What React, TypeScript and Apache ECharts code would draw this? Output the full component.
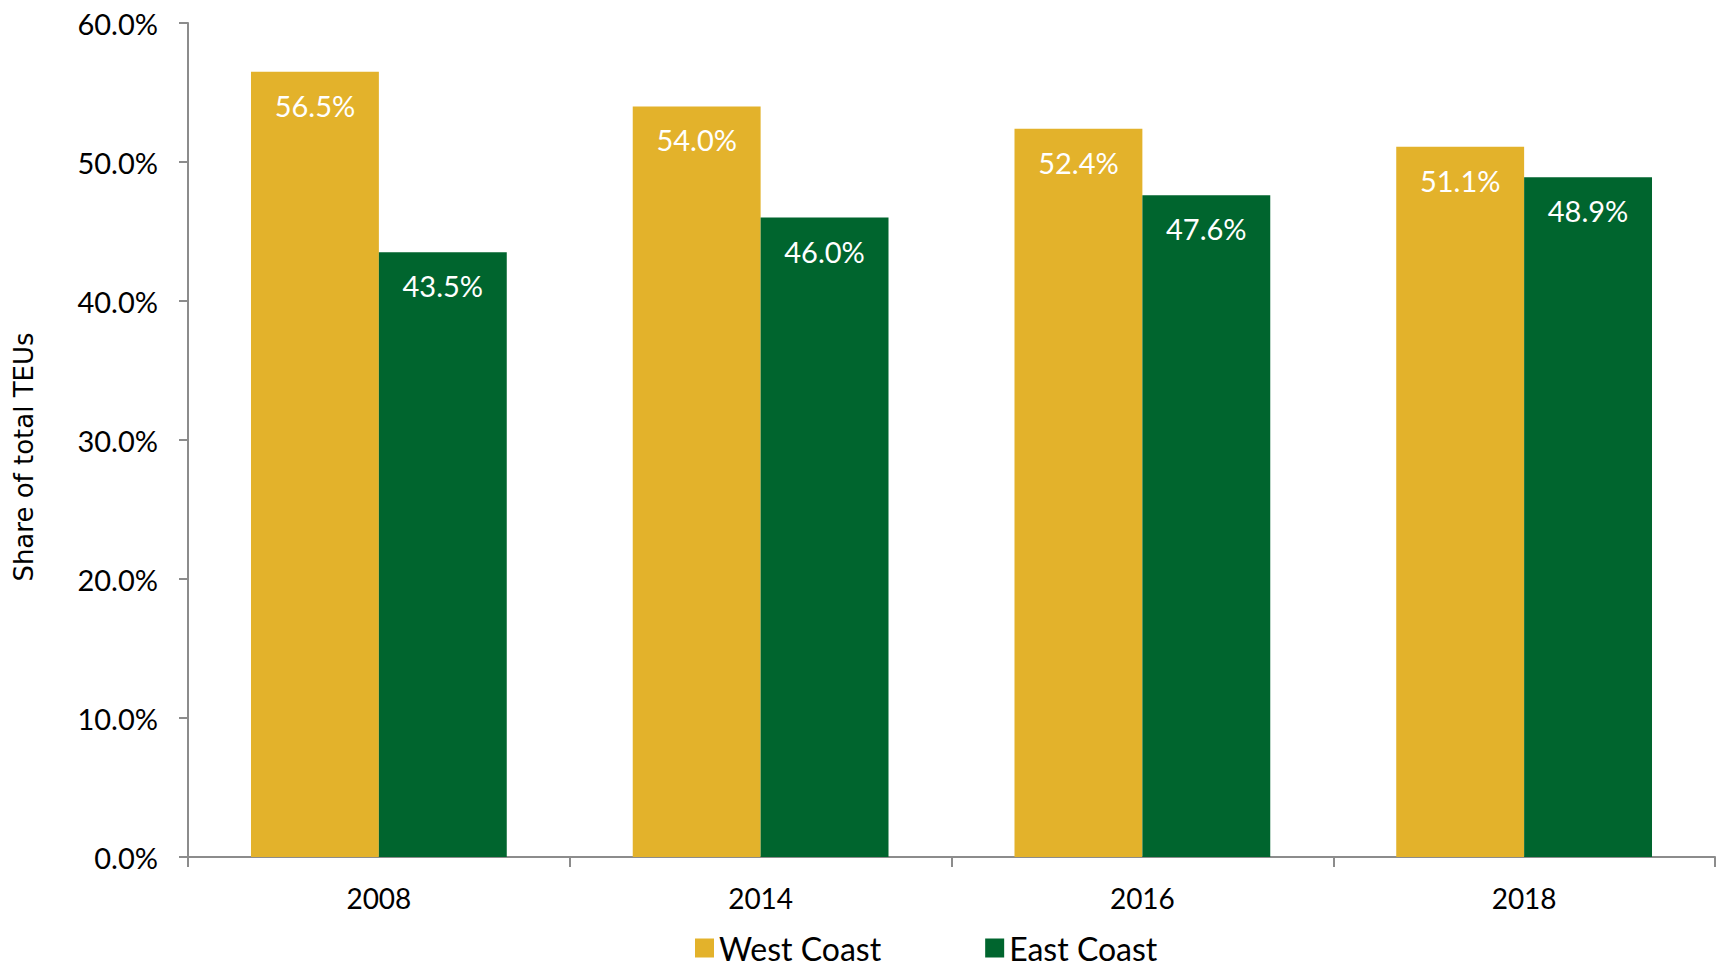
import React, { useEffect, useRef } from "react";
import * as echarts from "echarts";

const categories = ["2008", "2014", "2016", "2018"];
const westCoast = [56.5, 54.0, 52.4, 51.1];
const eastCoast = [43.5, 46.0, 47.6, 48.9];
const seriesNames = ["West Coast", "East Coast"];

const GOLD = "#E3B22B";
const GREEN = "#00652E";
const FONT = "Lato, 'Open Sans', sans-serif";

export default function App() {
  const ref = useRef<HTMLDivElement>(null);
  useEffect(() => {
    document.body.style.margin = "0";
    const chart = echarts.init(ref.current!, null, { renderer: "svg" });
    const label = {
      show: true,
      position: "insideTop",
      distance: 19,
      color: "#ffffff",
      fontSize: 29,
      fontFamily: FONT,
      formatter: (p: any) => p.value.toFixed(1) + "%",
    };
    chart.setOption({
      animation: false,
      backgroundColor: "#ffffff",
      grid: { left: 188, right: 1, top: 23, bottom: 112, containLabel: false },
      legend: {
        top: 929,
        left: 693,
        itemWidth: 19,
        itemHeight: 19,
        itemGap: 104,
        padding: 2,
        icon: "rect",
        textStyle: { fontSize: 32, fontFamily: FONT, color: "#000", lineHeight: 34 },
        data: seriesNames,
      },
      xAxis: {
        type: "category",
        data: categories,
        axisLine: { lineStyle: { color: "#8c8c8c", width: 2 } },
        axisTick: { show: true, length: 10, lineStyle: { color: "#8c8c8c", width: 2 } },
        axisLabel: { fontSize: 28, fontFamily: FONT, color: "#000", margin: 27 },
      },
      yAxis: {
        type: "value",
        min: 0,
        max: 60,
        interval: 10,
        name: "Share of total TEUs",
        nameLocation: "middle",
        nameGap: 151,
        nameTextStyle: {
          fontSize: 26,
          fontFamily: "'DejaVu Sans', sans-serif",
          color: "#000",
          padding: [0, 34, 0, 0],
        },
        axisLine: { show: true, lineStyle: { color: "#8c8c8c", width: 2 } },
        axisTick: { show: true, length: 9, lineStyle: { color: "#8c8c8c", width: 2 } },
        splitLine: { show: false },
        axisLabel: {
          fontSize: 29,
          fontFamily: FONT,
          color: "#000",
          margin: 30,
          formatter: (v: number) => v.toFixed(1) + "%",
        },
      },
      series: [
        {
          name: seriesNames[0],
          type: "bar",
          data: westCoast,
          itemStyle: { color: GOLD },
          barGap: "0%",
          barCategoryGap: "33%",
          label,
        },
        {
          name: seriesNames[1],
          type: "bar",
          data: eastCoast,
          itemStyle: { color: GREEN },
          barGap: "0%",
          barCategoryGap: "33%",
          label,
        },
      ],
    });
    return () => chart.dispose();
  }, []);
  return <div ref={ref} style={{ width: 1716, height: 969 }} />;
}
